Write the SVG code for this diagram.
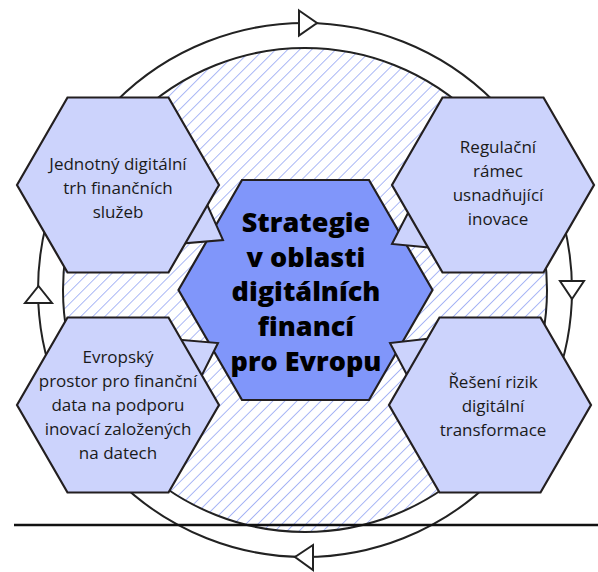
<svg xmlns="http://www.w3.org/2000/svg" width="598" height="572" viewBox="0 0 598 572">
<defs>
<pattern id="hatch" patternUnits="userSpaceOnUse" width="8.5" height="8.5" patternTransform="rotate(45)">
<rect width="8.5" height="8.5" fill="#ffffff"/>
<line x1="0" y1="0" x2="0" y2="8.5" stroke="#7389f0" stroke-width="1.2"/>
</pattern>
<style>
.ring{fill:none;stroke:#222;stroke-width:2}
.arrow{fill:#fff;stroke:#222;stroke-width:2;stroke-linejoin:miter}
.hex{fill:#ccd3fc;stroke:#231f20;stroke-width:2.2;stroke-linejoin:miter}
.center{fill:#8096fa;stroke:#231f20;stroke-width:2.2}
.tail{fill:#ccd3fc;stroke:#231f20;stroke-width:2}
.lbl{font-family:"Open Sans","Noto Sans",sans-serif;font-size:17px;fill:#1a1a1a;text-anchor:middle}
.big{font-family:"Open Sans","Noto Sans",sans-serif;font-size:27px;font-weight:800;fill:#000;text-anchor:middle}
</style>
</defs>
<g id="cycle">
<circle class="ring" cx="305" cy="290" r="267"/>
<circle cx="305" cy="290" r="242" fill="url(#hatch)" stroke="#222" stroke-width="2"/>
</g>
<g id="connectors">
<polygon class="arrow" points="299,10.5 317,23 299,35.5"/>
<polygon class="arrow" points="560,281 584,281 572,299"/>
<polygon class="arrow" points="313,545 295,557 313,570"/>
<polygon class="arrow" points="25,303 52,303 38.5,286"/>
<line x1="14" y1="525" x2="598" y2="525" stroke="#111" stroke-width="2.5"/>
</g>
<g id="node-center">
<polygon class="center" points="178.5,290 242,180 369,180 432.5,290 369,400 242,400"/>
<text class="big" x="306" y="232">Strategie</text>
<text class="big" x="306" y="267">v oblasti</text>
<text class="big" x="306" y="301">digitálních</text>
<text class="big" x="306" y="336">financí</text>
<text class="big" x="306" y="371">pro Evropu</text>
</g>
<g id="tails">
<polygon class="tail" points="201,191 223,240 170,244.5"/>
<polygon class="tail" points="416,197.5 392,244 445,249"/>
<polygon class="tail" points="165,338.5 218,343 195,389"/>
<polygon class="tail" points="443,337 390,343 415,390"/>
</g>
<g id="node-tl">
<polygon class="hex" points="17,185 67.5,97.5 168.5,97.5 219,185 168.5,272.5 67.5,272.5"/>
<text class="lbl" x="118" y="170">Jednotný digitální</text>
<text class="lbl" x="118" y="194">trh finančních</text>
<text class="lbl" x="118" y="218">služeb</text>
</g>
<g id="node-tr">
<polygon class="hex" points="392,185 442.5,97.5 543.5,97.5 594,185 543.5,272.5 442.5,272.5"/>
<text class="lbl" x="498" y="153">Regulační</text>
<text class="lbl" x="498" y="177">rámec</text>
<text class="lbl" x="498" y="201">usnadňující</text>
<text class="lbl" x="498" y="225">inovace</text>
</g>
<g id="node-bl">
<polygon class="hex" points="17,405 67.5,317.5 168.5,317.5 219,405 168.5,492.5 67.5,492.5"/>
<text class="lbl" x="118" y="363">Evropský</text>
<text class="lbl" x="118" y="387">prostor pro finanční</text>
<text class="lbl" x="118" y="411">data na podporu</text>
<text class="lbl" x="118" y="435">inovací založených</text>
<text class="lbl" x="118" y="459">na datech</text>
</g>
<g id="node-br">
<polygon class="hex" points="389,405 439.5,317.5 540.5,317.5 591,405 540.5,492.5 439.5,492.5"/>
<text class="lbl" x="493" y="388">Řešení rizik</text>
<text class="lbl" x="493" y="412">digitální</text>
<text class="lbl" x="493" y="436">transformace</text>
</g>
</svg>
